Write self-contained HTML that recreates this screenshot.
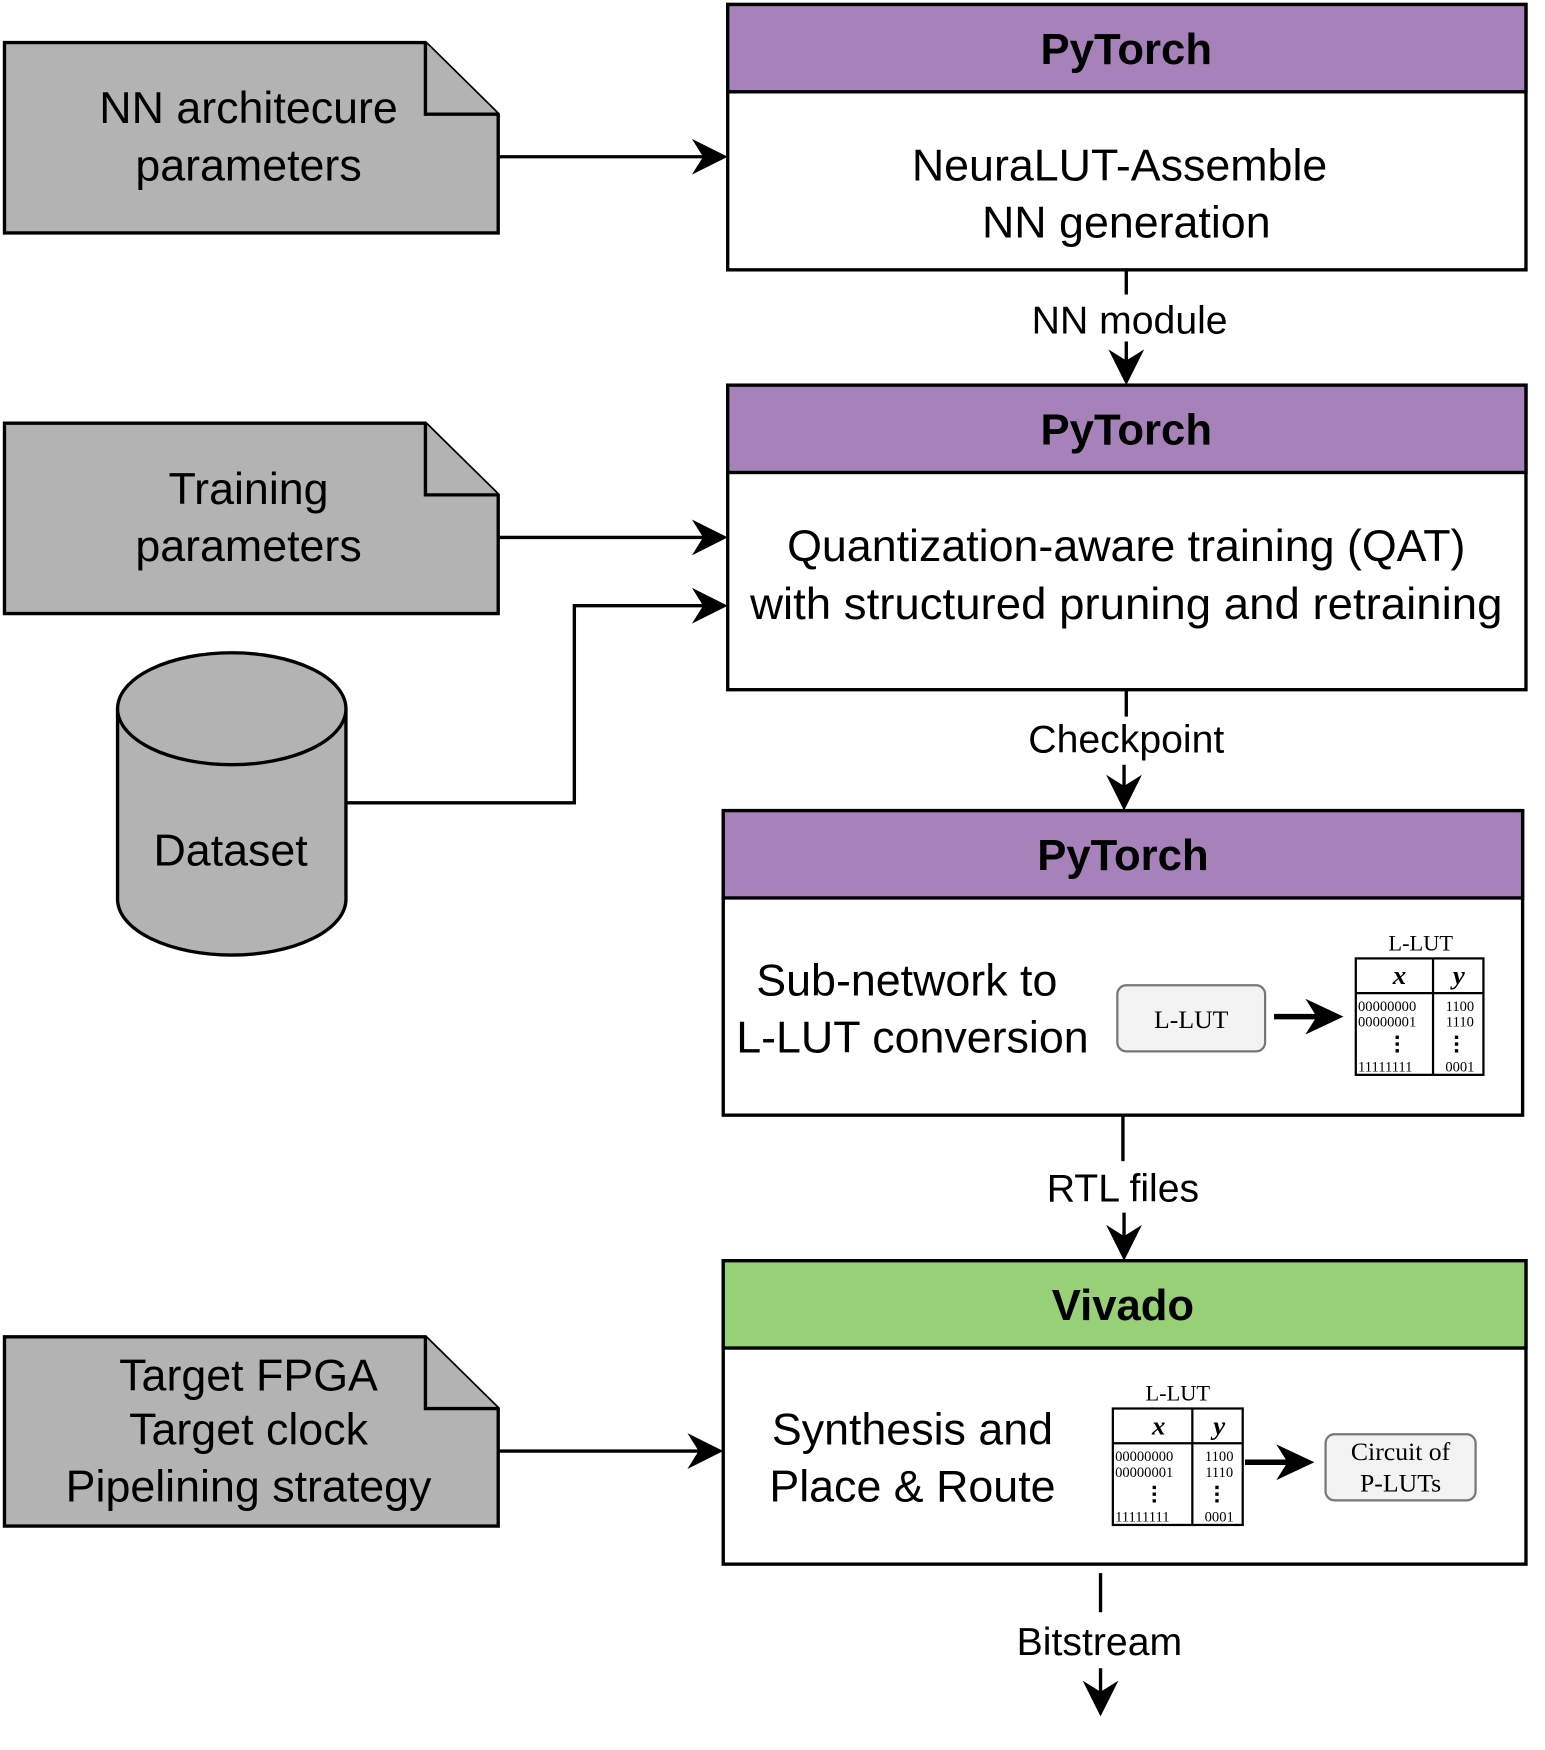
<!DOCTYPE html>
<html><head><meta charset="utf-8"><style>html,body{margin:0;padding:0;background:#fff}svg{display:block}</style></head><body>
<svg width="1545" height="1750" viewBox="0 0 1380 1563" preserveAspectRatio="none" xmlns="http://www.w3.org/2000/svg" font-family="Liberation Sans, sans-serif">
<rect width="1380" height="1563" fill="#fff"/>
<g stroke="#000" stroke-width="3">
<path d="M4 38 H380 L445 102 V208 H4 Z" fill="#b3b3b3"/><path d="M380 38 V102 H445" fill="#b3b3b3"/>
<path d="M4 378 H380 L445 442 V548 H4 Z" fill="#b3b3b3"/><path d="M380 378 V442 H445" fill="#b3b3b3"/>
<path d="M4 1194 H380 L445 1258 V1363 H4 Z" fill="#b3b3b3"/><path d="M380 1194 V1258 H445" fill="#b3b3b3"/>
<path d="M105 633 V803 A102 50 0 0 0 309 803 V633" fill="#b3b3b3"/>
<ellipse cx="207" cy="633" rx="102" ry="50" fill="#b3b3b3"/>
<rect x="650" y="4" width="713" height="237" fill="#fff"/><rect x="650" y="4" width="713" height="78" fill="#a681ba"/>
<rect x="650" y="344" width="713" height="272" fill="#fff"/><rect x="650" y="344" width="713" height="78" fill="#a681ba"/>
<rect x="646" y="724" width="714" height="272" fill="#fff"/><rect x="646" y="724" width="714" height="78" fill="#a681ba"/>
<rect x="646" y="1126" width="717" height="271" fill="#fff"/><rect x="646" y="1126" width="717" height="78" fill="#97d077"/>
<path d="M445 140 H640" fill="none"/>
<path d="M445 480 H640" fill="none"/>
<path d="M309 717 H513 V541 H640" fill="none"/>
<path d="M445 1296 H636" fill="none"/>
<path d="M1006 241 V263 M1006 305 V334" fill="none"/>
<path d="M1006 616 V640 M1004 683 V714" fill="none"/>
<path d="M1003 996 V1037 M1004 1083 V1115" fill="none"/>
<path d="M983 1405 V1440 M983 1490 V1522" fill="none"/>
</g>
<g fill="#000">
<path d="M650 140 L618 124 L628 140 L618 156 Z"/>
<path d="M650 480 L618 464 L628 480 L618 496 Z"/>
<path d="M650 541 L618 525 L628 541 L618 557 Z"/>
<path d="M646 1296 L614 1280 L624 1296 L614 1312 Z"/>
<path d="M1006 344 L990 312 L1006 322 L1022 312 Z"/>
<path d="M1004 724 L988 692 L1004 702 L1020 692 Z"/>
<path d="M1004 1126 L988 1094 L1004 1104 L1020 1094 Z"/>
<path d="M983 1533 L967 1501 L983 1511 L999 1501 Z"/>
</g>
<g font-size="40" text-anchor="middle" fill="#000">
<text x="1006" y="57" font-weight="bold" font-size="39">PyTorch</text>
<text x="1006" y="397" font-weight="bold" font-size="39">PyTorch</text>
<text x="1003" y="777" font-weight="bold" font-size="39">PyTorch</text>
<text x="1003" y="1179" font-weight="bold" font-size="39">Vivado</text>
<text x="1000" y="161">NeuraLUT-Assemble</text><text x="1006" y="212">NN generation</text>
<text x="1006" y="501">Quantization-aware training (QAT)</text><text x="1006" y="553" textLength="672" lengthAdjust="spacingAndGlyphs">with structured pruning and retraining</text>
<text x="810" y="889">Sub-network to</text><text x="815" y="940">L-LUT conversion</text>
<text x="815" y="1290">Synthesis and</text><text x="815" y="1341">Place &amp; Route</text>
<text x="222" y="110">NN architecure</text><text x="222" y="161">parameters</text>
<text x="222" y="450">Training</text><text x="222" y="501">parameters</text>
<text x="222" y="1242">Target FPGA</text><text x="222" y="1290">Target clock</text><text x="222" y="1341">Pipelining strategy</text>
<text x="206" y="773">Dataset</text>
<text x="1009" y="298" font-size="35">NN module</text>
<text x="1006" y="672" font-size="35">Checkpoint</text>
<text x="1003" y="1073" font-size="35">RTL files</text>
<text x="982" y="1478" font-size="35">Bitstream</text>
</g>
<g font-family="Liberation Serif, serif" fill="#000">
<rect x="998" y="880" width="132" height="59" rx="8" fill="#f3f3f3" stroke="#777" stroke-width="2"/>
<text x="1064" y="918" font-size="23" text-anchor="middle">L-LUT</text>
<path d="M1138 908 H1180" stroke="#000" stroke-width="5"/><path d="M1200 908 L1166 892 L1176 908 L1166 924 Z"/>
<text x="1269" y="849" font-size="20" text-anchor="middle">L-LUT</text>
<rect x="1211" y="856" width="114" height="104" fill="#fff" stroke="#000" stroke-width="2"/>
<path d="M1211 887 H1325 M1280 856 V960" stroke="#000" stroke-width="2"/>
<text x="1250" y="879" font-size="24" font-style="italic" font-weight="bold" text-anchor="middle">x</text>
<text x="1303" y="879" font-size="24" font-style="italic" font-weight="bold" text-anchor="middle">y</text>
<g font-size="13"><text x="1213" y="903">00000000</text><text x="1213" y="917">00000001</text><text x="1213" y="957">11111111</text>
<text x="1304" y="903" text-anchor="middle">1100</text><text x="1304" y="917" text-anchor="middle">1110</text><text x="1304" y="957" text-anchor="middle">0001</text></g>
<path d="M1248 925 V942 M1301 925 V942" stroke="#000" stroke-width="3" stroke-dasharray="3 3"/>

<text x="1052" y="1251" font-size="20" text-anchor="middle">L-LUT</text>
<rect x="994" y="1258" width="116" height="104" fill="#fff" stroke="#000" stroke-width="2"/>
<path d="M994 1289 H1110 M1065 1258 V1362" stroke="#000" stroke-width="2"/>
<text x="1035" y="1281" font-size="24" font-style="italic" font-weight="bold" text-anchor="middle">x</text>
<text x="1089" y="1281" font-size="24" font-style="italic" font-weight="bold" text-anchor="middle">y</text>
<g font-size="13"><text x="996" y="1305">00000000</text><text x="996" y="1319">00000001</text><text x="996" y="1359">11111111</text>
<text x="1089" y="1305" text-anchor="middle">1100</text><text x="1089" y="1319" text-anchor="middle">1110</text><text x="1089" y="1359" text-anchor="middle">0001</text></g>
<path d="M1031 1327 V1344 M1087 1327 V1344" stroke="#000" stroke-width="3" stroke-dasharray="3 3"/>
<path d="M1112 1306 H1154" stroke="#000" stroke-width="5"/><path d="M1174 1306 L1140 1290 L1150 1306 L1140 1322 Z"/>
<rect x="1184" y="1281" width="134" height="59" rx="8" fill="#f3f3f3" stroke="#777" stroke-width="2"/>
<text x="1251" y="1304" font-size="23" text-anchor="middle">Circuit of</text>
<text x="1251" y="1332" font-size="23" text-anchor="middle">P-LUTs</text>
</g>
</svg>
</body></html>
